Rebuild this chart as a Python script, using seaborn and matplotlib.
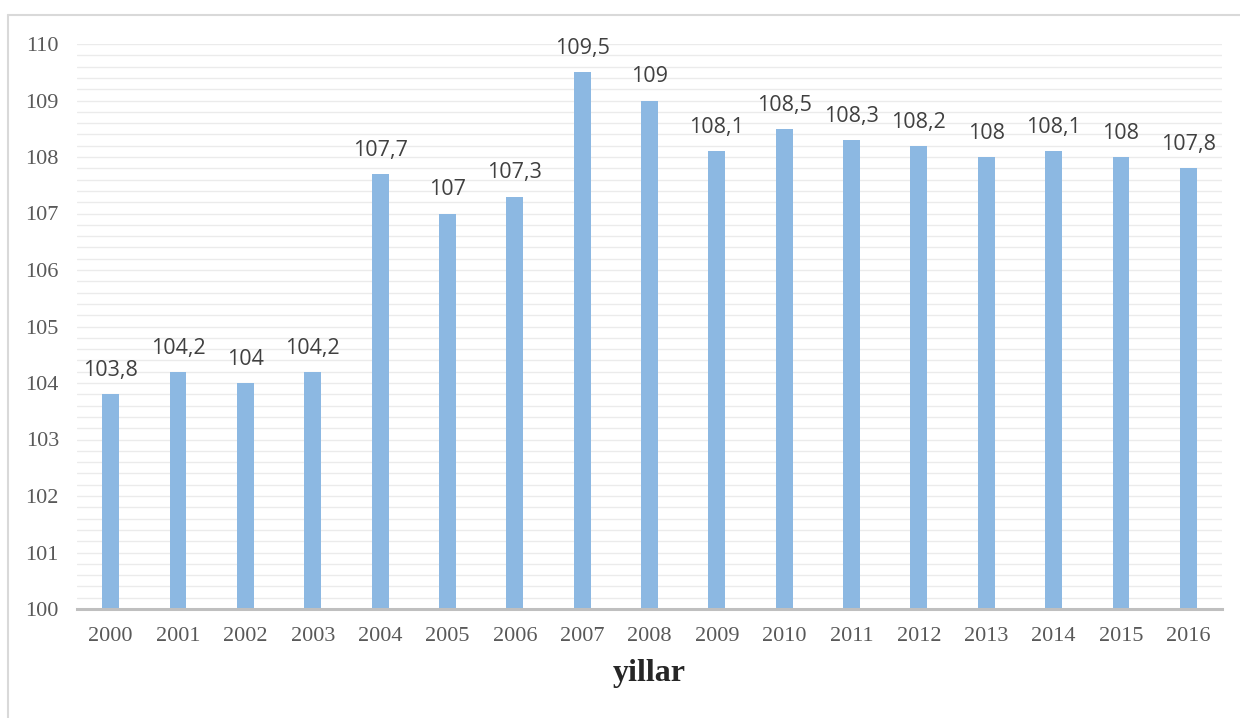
import matplotlib
matplotlib.use("Agg")
import matplotlib.pyplot as plt
from matplotlib.lines import Line2D
from matplotlib.ticker import MultipleLocator
import seaborn as sns
import pandas as pd

years = ["2000", "2001", "2002", "2003", "2004", "2005", "2006", "2007", "2008",
         "2009", "2010", "2011", "2012", "2013", "2014", "2015", "2016"]
values = [103.8, 104.2, 104.0, 104.2, 107.7, 107.0, 107.3, 109.5, 109.0,
          108.1, 108.5, 108.3, 108.2, 108.0, 108.1, 108.0, 107.8]
y_ticks = [100, 101, 102, 103, 104, 105, 106, 107, 108, 109, 110]
x_title = "yillar"

df = pd.DataFrame({"year": years, "value": values})

sns.set_style("white")
fig = plt.figure(figsize=(12.4, 7.18), dpi=100)
ax = fig.add_axes([77 / 1240, 1 - 609 / 718, (1222 - 77) / 1240, (609 - 44) / 718])

sns.barplot(data=df, x="year", y="value", ax=ax, color="#8CB8E2", width=0.25,
            saturation=1, edgecolor="none", zorder=3)

ax.set_ylim(100, 110)
ax.set_xlim(-0.5, len(years) - 0.5)
ax.set_yticks(y_ticks)
ax.yaxis.set_minor_locator(MultipleLocator(0.2))
ax.grid(axis="y", which="both", color="#EBEBEB", linewidth=1.0, zorder=0)
ax.grid(axis="x", visible=False)
ax.set_axisbelow(True)

for s in ["top", "right", "left"]:
    ax.spines[s].set_visible(False)
ax.spines["bottom"].set_color("#BFBFBF")
ax.spines["bottom"].set_linewidth(2.2)
ax.spines["bottom"].set_zorder(4)

ax.tick_params(axis="both", which="both", length=0)
ax.tick_params(axis="y", pad=13)
ax.tick_params(axis="x", pad=13)
for lab in ax.get_xticklabels() + ax.get_yticklabels():
    lab.set_fontfamily("Liberation Serif")
    lab.set_fontsize(16)
    lab.set_color("#595959")

ax.set_ylabel("")
ax.set_xlabel(x_title, fontfamily="Liberation Serif", fontweight="bold",
              fontsize=23, color="#262626", labelpad=9)


def fmt(v):
    if abs(v - round(v)) < 1e-9:
        return str(int(round(v)))
    return f"{v:.1f}".replace(".", ",")


for container in ax.containers:
    ax.bar_label(container, labels=[fmt(v) for v in values], padding=9.5,
                 fontsize=15.5, fontfamily="Open Sans", color="#404040")

# outer frame (top and left edges)
fig.add_artist(Line2D([8 / 1240, 1.0], [1 - 15 / 718, 1 - 15 / 718],
                      transform=fig.transFigure, color="#D9D9D9", linewidth=1.5))
fig.add_artist(Line2D([8 / 1240, 8 / 1240], [0, 1 - 15 / 718],
                      transform=fig.transFigure, color="#D9D9D9", linewidth=1.5))

fig.savefig("out.png", dpi=100)
